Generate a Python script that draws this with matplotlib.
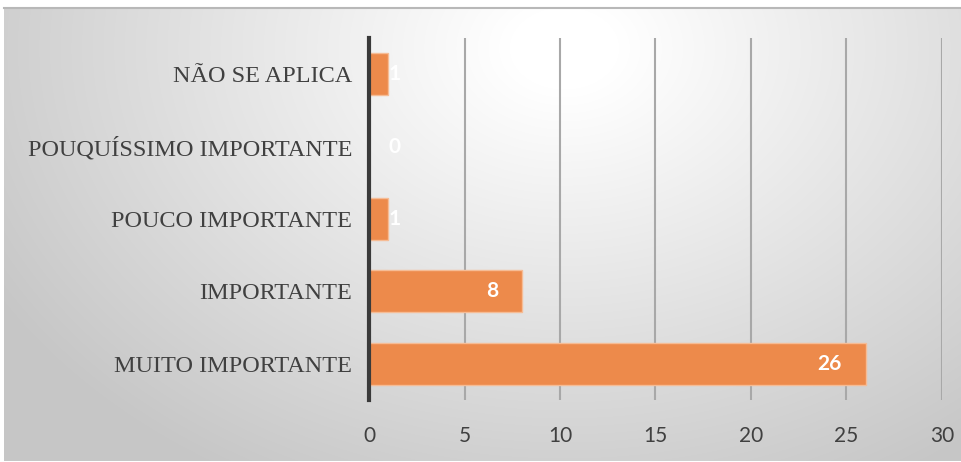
import numpy as np
import matplotlib
matplotlib.use("Agg")
import matplotlib.pyplot as plt

categories = ["MUITO IMPORTANTE", "IMPORTANTE", "POUCO IMPORTANTE",
              "POUQUÍSSIMO IMPORTANTE", "NÃO SE APLICA"]
values = [26, 8, 1, 0, 1]
xticks = [0, 5, 10, 15, 20, 25, 30]

W, H = 961, 462
fig = plt.figure(figsize=(W / 100, H / 100), dpi=100)
fig.patch.set_facecolor("white")

# background panel with radial gradient
bg = fig.add_axes([4 / W, 1 / H, (W - 4) / W, (H - 9) / H])
bg.set_axis_off()
yy, xx = np.mgrid[0:H - 9, 0:W - 4]
cx, cy = 560, 40
d = np.sqrt(((xx - cx) / 600.0) ** 2 + ((yy - cy) / 450.0) ** 2)
g = np.clip(1.02 - 0.22 * d, 0.78, 1)
img = np.dstack([g, g, g])
bg.imshow(img, aspect="auto", extent=[0, 1, 0, 1], origin="upper")
bg.plot([0, 1], [1, 1], color="#b8b8b8", lw=1.5, transform=bg.transAxes, clip_on=False)

ax = fig.add_axes([369 / W, (H - 400) / H, (942 - 369) / W, (400 - 38) / H])
ax.patch.set_alpha(0)
y = np.arange(len(categories))
bars = ax.barh(y, values, height=0.58, color="#ED8A4B", edgecolor="#F6BC95",
               linewidth=1.0, zorder=3)
ax.set_xlim(0, 30)
ax.set_ylim(-0.5, len(categories) - 0.5)
ax.set_xticks(xticks)
ax.set_xticklabels([str(t) for t in xticks], fontfamily="Lato", fontsize=15, color="#404040")
ax.set_yticks(y)
ax.set_yticklabels(categories, fontfamily="Liberation Serif", fontsize=17.5, color="#404040")
ax.tick_params(axis="x", length=0, pad=19)
ax.tick_params(axis="y", length=0, pad=12)
ax.grid(axis="x", color="#a8a8a8", lw=1.5, zorder=1)
for s in ["top", "right", "bottom"]:
    ax.spines[s].set_visible(False)
ax.spines["left"].set_color("#3a3a3a")
ax.spines["left"].set_linewidth(3)
ax.spines["left"].set_zorder(4)

for yi, v in zip(y, values):
    if v >= 3:
        ax.annotate(str(v), xy=(v, yi), xytext=(-17, 0), textcoords="offset points",
                    ha="right", va="center", color="white", fontsize=15,
                    fontweight="bold", fontfamily="Lato", zorder=5)
    else:
        ax.annotate(str(v), xy=(0, yi), xytext=(14, 0), textcoords="offset points",
                    ha="left", va="center", color="white", fontsize=15,
                    fontweight="bold", fontfamily="Lato", zorder=5)

fig.savefig("out.png", dpi=100)
